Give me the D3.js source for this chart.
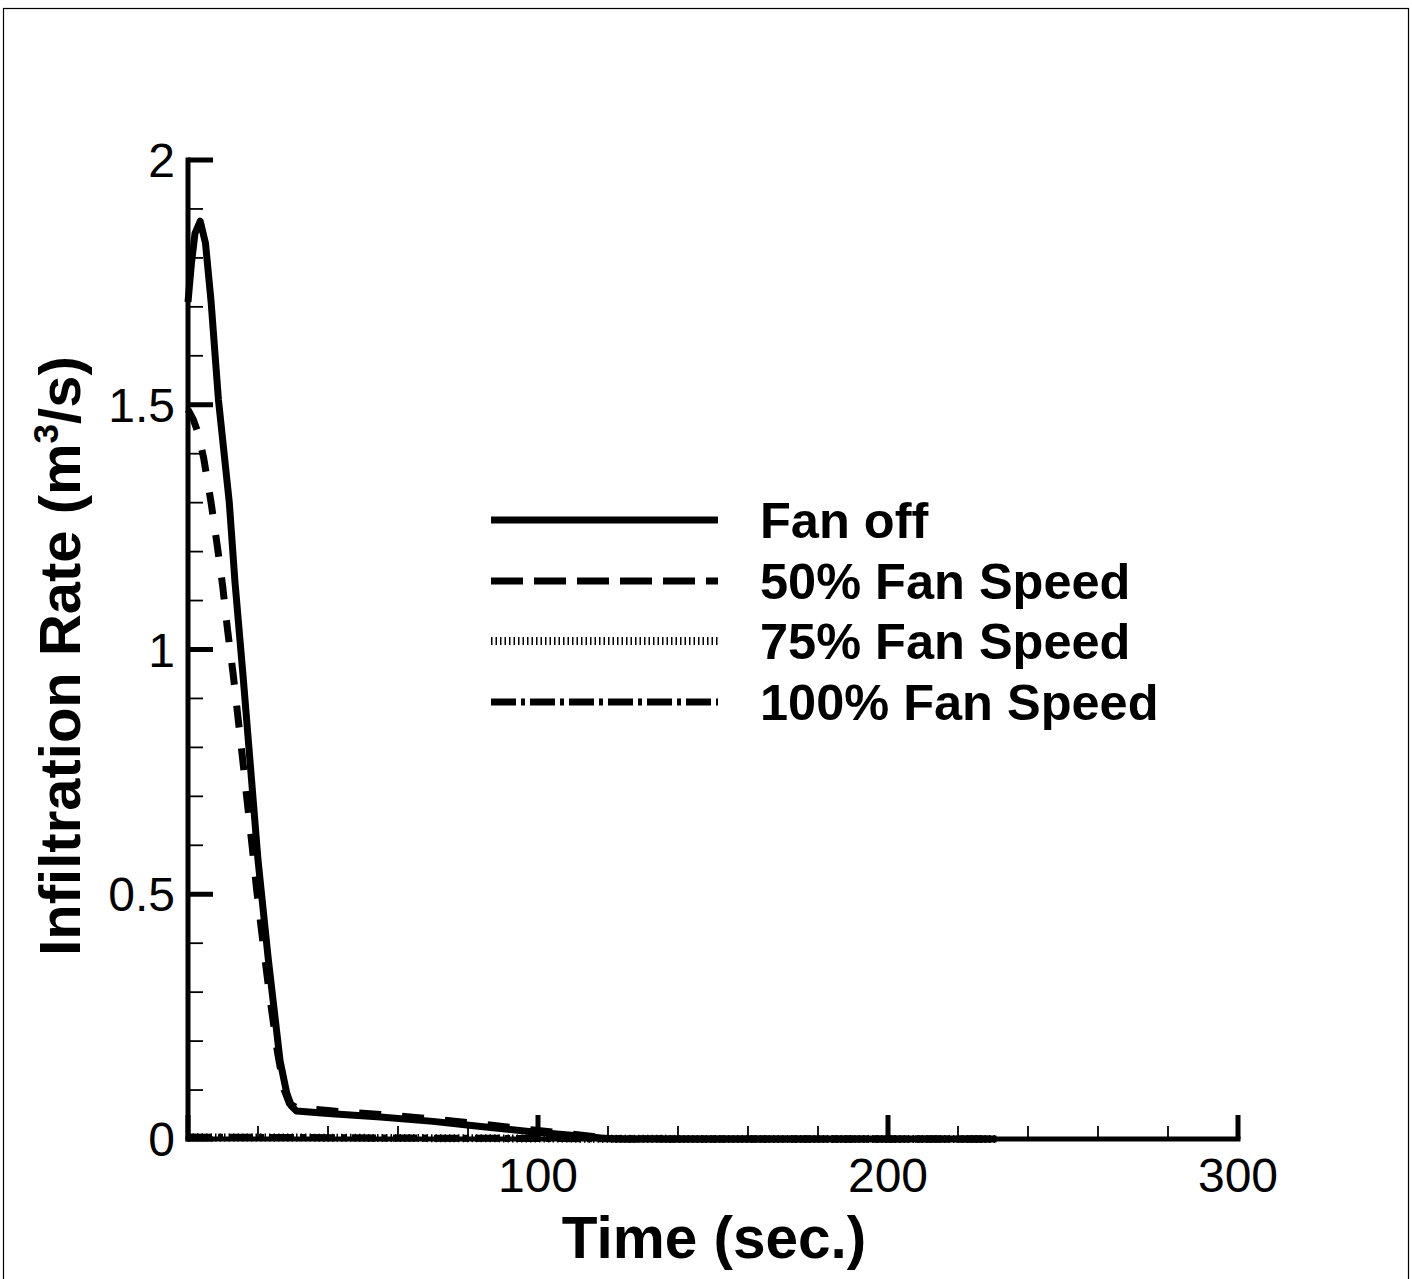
<!DOCTYPE html>
<html>
<head>
<meta charset="utf-8">
<script src="https://cdn.jsdelivr.net/npm/d3@7"></script>
<style>
  html, body { margin: 0; padding: 0; background: #fff; }
  svg { display: block; }
  text { font-family: "Liberation Sans", Arial, Helvetica, sans-serif; fill: #000; }
</style>
</head>
<body>
<svg id="chart" width="1412" height="1279"></svg>
<script>
// ---------------- data ----------------
const seriesNames = ["Fan off", "50% Fan Speed", "75% Fan Speed", "100% Fan Speed"];

const fanOffTime  = [0, 1, 2, 3.5, 5, 6.6, 8.7, 11.8, 13.4, 15.8, 18.2, 20, 22.9, 26.3, 28.2, 29.5, 31, 40, 55, 70, 83, 98, 112, 118, 122, 231];
const fanOffValue = [1.71, 1.79, 1.85, 1.875, 1.83, 1.71, 1.51, 1.30, 1.14, 0.94, 0.73, 0.57, 0.37, 0.16, 0.094, 0.068, 0.057, 0.052, 0.045, 0.036, 0.026, 0.015, 0.006, 0.002, 0, 0];

const fan50Time  = [0, 1.5, 3, 4.5, 6.6, 8.4, 9.9, 11.3, 12.9, 14.3, 15.7, 16.9, 18.3, 19.6, 21.1, 23, 25.5, 27.5, 29, 31, 40, 55, 70, 83, 98, 110, 118, 125, 231];
const fan50Value = [1.49, 1.47, 1.44, 1.39, 1.30, 1.21, 1.13, 1.04, 0.95, 0.86, 0.77, 0.69, 0.60, 0.51, 0.42, 0.31, 0.18, 0.10, 0.072, 0.064, 0.058, 0.050, 0.041, 0.031, 0.019, 0.010, 0.003, 0, 0];

const fan75Time  = [0, 30, 60, 100, 150, 231];
const fan75Value = [0.003, 0.003, 0.002, 0.001, 0, 0];

const fan100Time  = [0, 30, 60, 100, 150, 231];
const fan100Value = [0.004, 0.003, 0.002, 0.001, 0, 0];

const xMajorTicks = [0, 100, 200, 300];
const xMinorTicks = [20, 40, 60, 80, 120, 140, 160, 180, 220, 240, 260, 280];
const yMajorTicks = [0, 0.5, 1, 1.5, 2];
const yMinorTicks = [0.1, 0.2, 0.3, 0.4, 0.6, 0.7, 0.8, 0.9, 1.1, 1.2, 1.3, 1.4, 1.6, 1.7, 1.8, 1.9];
const yTickLabels = ["0", "0.5", "1", "1.5", "2"];
const xTickLabels = ["", "100", "200", "300"];

// ---------------- layout ----------------
const svg = d3.select("#chart");
const x = d3.scaleLinear().domain([0, 300]).range([188, 1238]);
const y = d3.scaleLinear().domain([0, 2]).range([1139, 160]);

// outer frame
svg.append("rect").attr("x", 3.5).attr("y", 8.5).attr("width", 1405).attr("height", 1300)
  .attr("fill", "none").attr("stroke", "#000").attr("stroke-width", 1.2);

const styles = [
  { width: 7, dash: null },
  { width: 7, dash: "22,21" },
  { width: 8, dash: "1.5,3" },
  { width: 7, dash: "24,6,5,6" }
];

const seriesData = [
  fanOffTime.map((t, i) => [t, fanOffValue[i]]),
  fan50Time.map((t, i) => [t, fan50Value[i]]),
  fan75Time.map((t, i) => [t, fan75Value[i]]),
  fan100Time.map((t, i) => [t, fan100Value[i]])
];

const line = d3.line().x(d => x(d[0])).y(d => y(d[1]));

const plot = svg.append("g");
[3, 2, 1, 0].forEach(k => {
  plot.append("path").datum(seriesData[k])
    .attr("d", line)
    .attr("fill", "none")
    .attr("stroke", "#000")
    .attr("stroke-width", styles[k].width)
    .attr("stroke-linejoin", "round")
    .attr("stroke-dasharray", styles[k].dash);
});

// ---------------- axes ----------------
const axes = svg.append("g");
axes.append("line").attr("x1", x(0)).attr("x2", x(0)).attr("y1", y(2) - 2.5).attr("y2", y(0) + 2.5)
  .attr("stroke", "#000").attr("stroke-width", 5);
axes.append("line").attr("x1", x(0) - 2.5).attr("x2", x(300) + 2.5).attr("y1", y(0)).attr("y2", y(0))
  .attr("stroke", "#000").attr("stroke-width", 5);

axes.selectAll(".ymaj").data(yMajorTicks).enter().append("line")
  .attr("x1", x(0)).attr("x2", x(0) + 25).attr("y1", d => y(d)).attr("y2", d => y(d))
  .attr("stroke", "#000").attr("stroke-width", 5);
axes.selectAll(".ymin").data(yMinorTicks).enter().append("line")
  .attr("x1", x(0)).attr("x2", x(0) + 15).attr("y1", d => y(d)).attr("y2", d => y(d))
  .attr("stroke", "#000").attr("stroke-width", 1.8);
axes.selectAll(".xmaj").data(xMajorTicks).enter().append("line")
  .attr("x1", d => x(d)).attr("x2", d => x(d)).attr("y1", y(0)).attr("y2", y(0) - 24)
  .attr("stroke", "#000").attr("stroke-width", 5);
axes.selectAll(".xmin").data(xMinorTicks).enter().append("line")
  .attr("x1", d => x(d)).attr("x2", d => x(d)).attr("y1", y(0)).attr("y2", y(0) - 13)
  .attr("stroke", "#000").attr("stroke-width", 1.8);

axes.selectAll(".ylab").data(yMajorTicks).enter().append("text")
  .attr("x", 175).attr("y", d => y(d) + 17)
  .attr("text-anchor", "end").attr("font-size", 48)
  .text((d, i) => yTickLabels[i]);
axes.selectAll(".xlab").data(xMajorTicks).enter().append("text")
  .attr("x", d => x(d)).attr("y", 1192)
  .attr("text-anchor", "middle").attr("font-size", 48)
  .text((d, i) => xTickLabels[i]);

svg.append("text").attr("x", 714).attr("y", 1258).attr("text-anchor", "middle")
  .attr("font-size", 58.5).attr("font-weight", "bold").text("Time (sec.)");

const yt = svg.append("text").attr("transform", "translate(80,656) rotate(-90)")
  .attr("text-anchor", "middle").attr("font-size", 58).attr("font-weight", "bold");
yt.append("tspan").text("Infiltration Rate (m");
yt.append("tspan").attr("font-size", 35).attr("dy", -22).text("3");
yt.append("tspan").attr("dy", 22).text("/s)");

// ---------------- legend ----------------
const legendRows = [520, 581, 641, 702];
const legendDash = [null, "32,11", "1.5,3", "25,5,4,5"];
const lg = svg.append("g");
seriesNames.forEach((name, i) => {
  lg.append("line").attr("x1", 491).attr("x2", 718)
    .attr("y1", legendRows[i]).attr("y2", legendRows[i])
    .attr("stroke", "#000").attr("stroke-width", styles[i].width)
    .attr("stroke-dasharray", legendDash[i]);
  lg.append("text").attr("x", 760).attr("y", legendRows[i] + 18)
    .attr("font-size", 50.5).attr("font-weight", "bold").text(name);
});
</script>
</body>
</html>
